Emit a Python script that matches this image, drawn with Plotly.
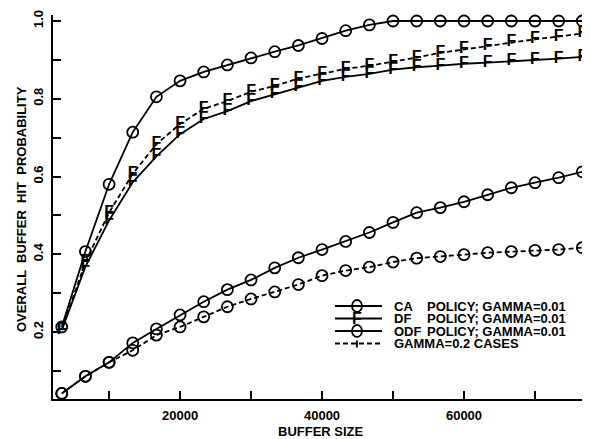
import plotly.graph_objects as go

# ---- data ----
buffer_size = [3333, 6667, 10000, 13333, 16667, 20000, 23333, 26667, 30000, 33333,
               36667, 40000, 43333, 46667, 50000, 53333, 56667, 60000, 63333, 66667,
               70000, 73333, 76667]

odf_g001 = [0.213, 0.407, 0.580, 0.714, 0.805, 0.846, 0.869, 0.887, 0.905, 0.921,
            0.937, 0.955, 0.975, 0.990, 1.000, 1.000, 1.000, 1.000, 1.000, 1.000,
            1.000, 1.000, 1.000]

df_g001 = [0.205, 0.368, 0.487, 0.585, 0.652, 0.709, 0.748, 0.768, 0.794, 0.812,
           0.830, 0.846, 0.856, 0.864, 0.875, 0.881, 0.885, 0.890, 0.893, 0.896,
           0.900, 0.903, 0.908]

df_g02 = [0.205, 0.380, 0.507, 0.607, 0.683, 0.735, 0.774, 0.794, 0.818, 0.833,
          0.852, 0.864, 0.877, 0.885, 0.895, 0.906, 0.918, 0.927, 0.935, 0.945,
          0.953, 0.960, 0.968]

ca_g001 = [0.042, 0.086, 0.122, 0.172, 0.208, 0.244, 0.278, 0.309, 0.334, 0.365,
           0.391, 0.412, 0.433, 0.456, 0.482, 0.507, 0.520, 0.535, 0.553, 0.571,
           0.584, 0.597, 0.612]

ca_g02 = [0.042, 0.086, 0.122, 0.153, 0.192, 0.213, 0.239, 0.265, 0.285, 0.303,
          0.322, 0.345, 0.358, 0.367, 0.380, 0.390, 0.394, 0.399, 0.404, 0.407,
          0.410, 0.412, 0.417]

x_tickvals = [10000, 20000, 30000, 40000, 50000, 60000, 70000]
x_ticktext = ["", "20000", "", "40000", "", "60000", ""]
y_tickvals = [0.1, 0.2, 0.3, 0.4, 0.5, 0.6, 0.7, 0.8, 0.9, 1.0]
y_ticktext = ["", "0.2", "", "0.4", "", "0.6", "", "0.8", "", "1.0"]

legend_prefix = ["CA", "DF", "ODF", ""]
legend_suffix = ["POLICY; GAMMA=0.01", "POLICY; GAMMA=0.01", "POLICY; GAMMA=0.01",
                 "GAMMA=0.2 CASES"]

# ---- styling / layout ----
OFF = 8                      # page body margin of the html page
W, H = 590 - OFF, 439 - OFF
ML, MR, MT, MB = 53 - OFF, 0, 15 - OFF, 40
FONT = "Liberation Sans, Arial, sans-serif"
BLACK = "#000000"
LW = 1.8
DASH = "5px,3px"
F_SIZE = 16


def px(x, y):
    """reference-window pixel -> paper coordinates"""
    x -= OFF
    y -= OFF
    return (x - ML) / (W - ML - MR), (H - MB - y) / (H - MT - MB)


fig = go.Figure()


def circle_trace(y, dash):
    fig.add_trace(go.Scatter(
        x=buffer_size, y=y, mode="lines+markers", showlegend=False,
        line=dict(color=BLACK, width=LW, dash=dash),
        marker=dict(symbol="circle-open", size=11, color=BLACK,
                    line=dict(color=BLACK, width=1.8)),
        cliponaxis=False))


def f_trace(y, dash):
    fig.add_trace(go.Scatter(
        x=buffer_size, y=y, mode="lines+text", showlegend=False,
        text=["F"] * len(buffer_size), textposition="middle center",
        textfont=dict(family=FONT, size=F_SIZE, color=BLACK, weight="bold"),
        line=dict(color=BLACK, width=LW, dash=dash),
        cliponaxis=False))


circle_trace(odf_g001, "solid")
f_trace(df_g02, DASH)
f_trace(df_g001, "solid")
circle_trace(ca_g02, DASH)
circle_trace(ca_g001, "solid")

# ---- manual legend ----
shapes = []
annotations = []
rows_y = [306, 318.5, 331, 343.5]
line_x0, line_x1, mark_x, text_x, suffix_x = 335, 382, 357, 392, 425
for i, ry in enumerate(rows_y):
    xa, ya = px(line_x0, ry)
    xb, _ = px(line_x1, ry)
    shapes.append(dict(type="line", xref="paper", yref="paper", x0=xa, x1=xb,
                       y0=ya, y1=ya,
                       line=dict(color=BLACK, width=LW,
                                 dash=DASH if i == 3 else "solid")))
    mx, my = px(mark_x, ry)
    if i in (0, 2):
        shapes.append(dict(type="circle", xref="paper", yref="paper",
                           xsizemode="pixel", ysizemode="pixel",
                           xanchor=mx, yanchor=my, x0=-5, x1=5, y0=-6, y1=6,
                           line=dict(color=BLACK, width=1.8)))
    elif i == 1:
        annotations.append(dict(x=mx, y=my, xref="paper", yref="paper",
                                xanchor="center", yanchor="middle",
                                text="F", showarrow=False,
                                font=dict(family=FONT, size=F_SIZE, color=BLACK,
                                          weight="bold")))
    else:
        shapes.append(dict(type="line", xref="paper", yref="paper",
                           xsizemode="pixel", ysizemode="pixel",
                           xanchor=mx, yanchor=my, x0=0, x1=0, y0=-4, y1=3,
                           line=dict(color=BLACK, width=1.8)))
    tx, ty = px(text_x, ry)
    if legend_prefix[i]:
        annotations.append(dict(x=tx, y=ty, xref="paper", yref="paper",
                                xanchor="left", yanchor="middle",
                                text=legend_prefix[i], showarrow=False,
                                font=dict(family=FONT, size=13, color=BLACK,
                                          weight="bold")))
        sx, _ = px(suffix_x, ry)
        annotations.append(dict(x=sx, y=ty, xref="paper", yref="paper",
                                xanchor="left", yanchor="middle",
                                text=legend_suffix[i], showarrow=False,
                                font=dict(family=FONT, size=13, color=BLACK,
                                          weight="bold")))
    else:
        annotations.append(dict(x=tx, y=ty, xref="paper", yref="paper",
                                xanchor="left", yanchor="middle",
                                text=legend_suffix[i], showarrow=False,
                                font=dict(family=FONT, size=13, color=BLACK,
                                          weight="bold")))

# axis titles
tx, ty = px(22, 209)
annotations.append(dict(x=tx, y=ty, xref="paper", yref="paper", textangle=-90,
                        text="OVERALL  BUFFER  HIT  PROBABILITY", showarrow=False,
                        xanchor="center", yanchor="middle",
                        font=dict(family=FONT, size=13, color=BLACK, weight="bold")))
tx, ty = px(321, 431)
annotations.append(dict(x=tx, y=ty, xref="paper", yref="paper",
                        text="BUFFER SIZE", showarrow=False,
                        xanchor="center", yanchor="middle",
                        font=dict(family=FONT, size=13, color=BLACK, weight="bold")))

fig.update_layout(
    width=W, height=H,
    margin=dict(l=ML, r=MR, t=MT, b=MB, pad=0),
    paper_bgcolor="white", plot_bgcolor="white",
    showlegend=False,
    shapes=shapes, annotations=annotations,
    font=dict(family=FONT, size=13, color=BLACK),
    xaxis=dict(range=[2100, 77750], showgrid=False, zeroline=False,
               showline=True, linecolor=BLACK, linewidth=2,
               ticks="inside", ticklen=8, tickwidth=1.5, tickcolor=BLACK,
               tickmode="array", tickvals=x_tickvals, ticktext=x_ticktext,
               ticklabelstandoff=3,
               tickfont=dict(family=FONT, size=13, color=BLACK, weight="bold")),
    yaxis=dict(range=[0.0277, 1.0154], showgrid=False, zeroline=False,
               showline=True, linecolor=BLACK, linewidth=2,
               ticks="inside", ticklen=8, tickwidth=1.5, tickcolor=BLACK,
               tickmode="array", tickvals=y_tickvals, ticktext=y_ticktext,
               tickangle=-90, ticklabelstandoff=3,
               tickfont=dict(family=FONT, size=13, color=BLACK, weight="bold")),
)

fig.write_html("out.html")
